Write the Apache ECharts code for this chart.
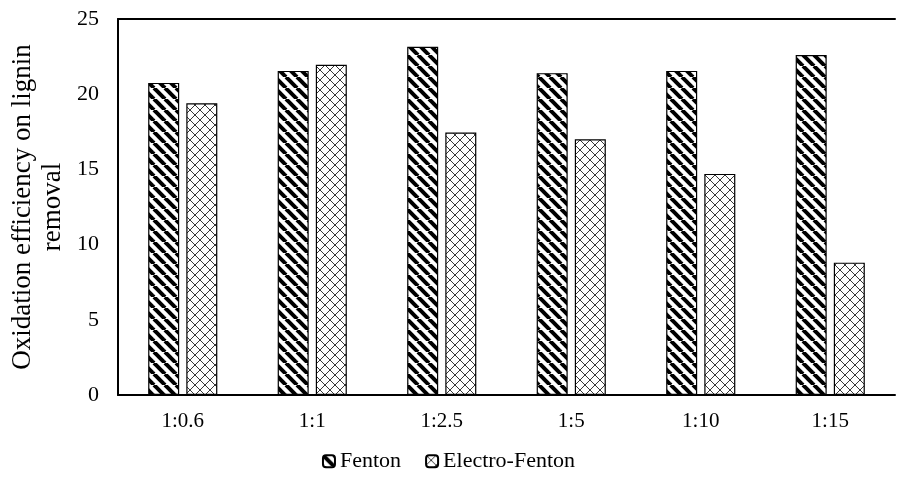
<!doctype html>
<html>
<head>
    <title>Oxidation efficiency</title>
    <script src="https://cdn.jsdelivr.net/npm/echarts@6/dist/echarts.min.js"></script>
</head>
<style>
    html, body { margin: 0; padding: 0; background: #fff; }
    #chart { width: 897px; height: 489px; }
</style>
<body>
<div id="chart"></div>
<script>
  var categories = ['1:0.6', '1:1', '1:2.5', '1:5', '1:10', '1:15'];
  var fenton = [20.75, 21.55, 23.15, 21.4, 21.55, 22.6];
  var electroFenton = [19.4, 21.95, 17.45, 17.0, 14.7, 8.8];
  var yTicks = [0, 5, 10, 15, 20, 25];

  var font = '"Liberation Serif", "Times New Roman", serif';

  // diagonal "\" stripes
  function stripePattern() {
    var c = document.createElement('canvas');
    var t = 11;
    c.width = t; c.height = t;
    var ctx = c.getContext('2d');
    ctx.fillStyle = '#fff';
    ctx.fillRect(0, 0, t, t);
    ctx.strokeStyle = '#000';
    ctx.lineWidth = 4;
    for (var x = -t; x <= t; x += t) {
      ctx.beginPath();
      ctx.moveTo(x, 0);
      ctx.lineTo(x + t, t);
      ctx.stroke();
    }
    return c;
  }

  // thin diamond cross hatch
  function hatchPattern() {
    var c = document.createElement('canvas');
    var t = 10;
    c.width = t; c.height = t;
    var ctx = c.getContext('2d');
    ctx.fillStyle = '#fff';
    ctx.fillRect(0, 0, t, t);
    ctx.strokeStyle = '#222';
    ctx.lineWidth = 0.9;
    ctx.beginPath();
    ctx.moveTo(0, 0); ctx.lineTo(t, t);
    ctx.moveTo(t, 0); ctx.lineTo(0, t);
    ctx.stroke();
    return c;
  }

  var myChart = echarts.init(document.getElementById('chart'));

  var option = {
    backgroundColor: '#fff',
    animation: false,
    textStyle: { fontFamily: font, color: '#000' },
    grid: { left: 118, right: 2, top: 19, bottom: 94, outerBoundsMode: 'none', containLabel: false },
    legend: {
      bottom: 6,
      left: 'center',
      itemWidth: 12,
      itemHeight: 12,
      itemGap: 24,
      textStyle: { fontFamily: font, fontSize: 22, color: '#000' },
      data: ['Fenton', 'Electro-Fenton']
    },
    xAxis: [{
      type: 'category',
      data: categories,
      axisLine: { lineStyle: { color: '#000', width: 2 } },
      axisTick: { show: false },
      axisLabel: { fontFamily: font, fontSize: 21, color: '#000', margin: 10 }
    }, {
      type: 'category',
      position: 'top',
      data: categories,
      axisLine: { lineStyle: { color: '#000', width: 2 } },
      axisTick: { show: false },
      axisLabel: { show: false }
    }],
    yAxis: {
      type: 'value',
      min: yTicks[0],
      max: yTicks[yTicks.length - 1],
      interval: 5,
      name: 'Oxidation efficiency on lignin\nremoval',
      nameLocation: 'middle',
      nameGap: 50,
      nameMoveOverlap: false,
      nameTextStyle: { fontFamily: font, fontSize: 27, color: '#000', lineHeight: 30 },
      axisLine: { show: true, lineStyle: { color: '#000', width: 2 } },
      axisTick: { show: false },
      splitLine: { show: false },
      axisLabel: { fontFamily: font, fontSize: 22, color: '#000', margin: 19 }
    },
    series: [{
      name: 'Fenton',
      type: 'bar',
      data: fenton,
      barWidth: 31,
      barGap: '23%',
      itemStyle: {
        color: { image: stripePattern(), repeat: 'repeat' },
        borderColor: '#000',
        borderWidth: 1.2
      }
    }, {
      name: 'Electro-Fenton',
      type: 'bar',
      data: electroFenton,
      barWidth: 31,
      itemStyle: {
        color: { image: hatchPattern(), repeat: 'repeat' },
        borderColor: '#000',
        borderWidth: 1.2
      }
    }]
  };

  myChart.setOption(option);
</script>
</body>
</html>
